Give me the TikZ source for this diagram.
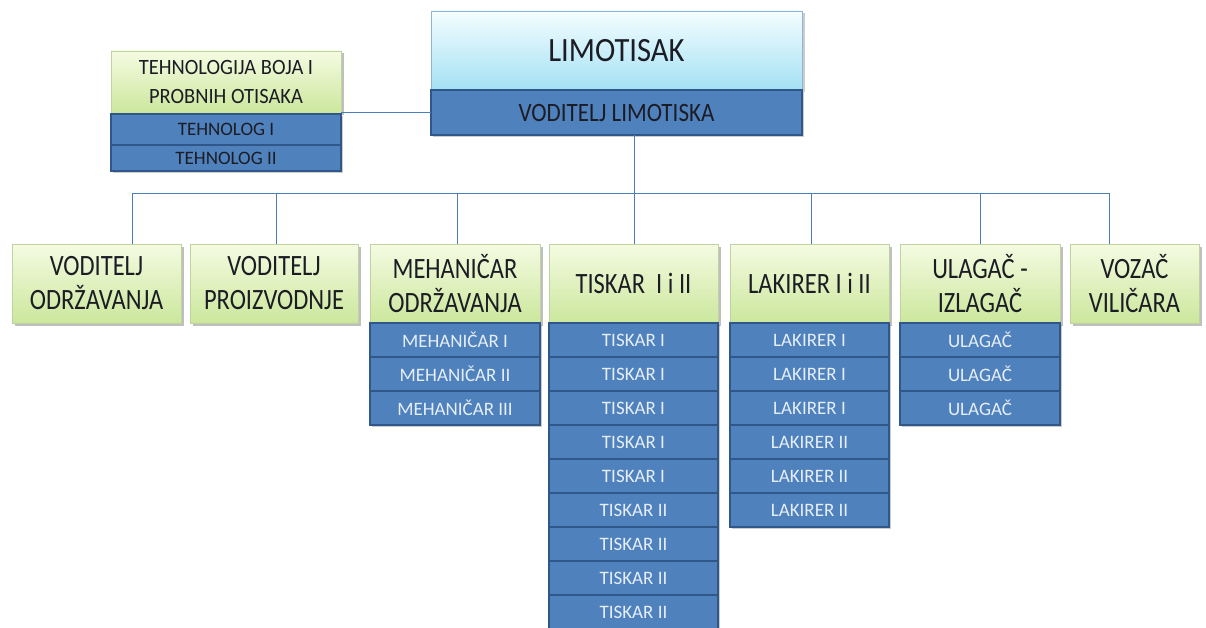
\documentclass[tikz,border=0pt]{standalone}
\usepackage{fontspec}
\setmainfont{Carlito}
\newfontfamily\greenf[FakeStretch=0.83]{Carlito}
\newfontfamily\limf[FakeStretch=0.9]{Carlito}
\newfontfamily\vlf[FakeStretch=0.87]{Carlito}
\newfontfamily\tehf[FakeStretch=0.94]{Carlito}
\usetikzlibrary{shadows}
\definecolor{blueF}{HTML}{4F81BD}
\definecolor{blueD}{HTML}{30578A}
\definecolor{lineC}{HTML}{4A7EBB}
\definecolor{greenT}{HTML}{F5FBE2}
\definecolor{greenB}{HTML}{CBE79C}
\definecolor{greenE}{HTML}{BFD3A0}
\definecolor{cyanT}{HTML}{F4FDFF}
\definecolor{cyanB}{HTML}{A4E1F4}
\definecolor{cyanE}{HTML}{8FB4D8}
\definecolor{subT}{HTML}{E6EEF8}
\definecolor{darkT}{HTML}{1C1C24}
\tikzset{
  x=1pt, y=-1pt,
  greenbox/.style={draw=greenE, line width=0.8pt, top color=greenT, bottom color=greenB,
    inner sep=0pt, outer sep=0pt, align=center, text=darkT,
    font=\greenf\fontsize{29.5}{34}\selectfont,
    drop shadow={shadow xshift=2.5pt, shadow yshift=-2.5pt, opacity=0.25, fill=black}},
  subbox/.style={draw=blueD, line width=1.6pt, fill=blueF, text=subT,
    inner sep=0pt, outer sep=0pt, font=\fontsize{19}{22}\selectfont,
    drop shadow={shadow xshift=2pt, shadow yshift=-2pt, opacity=0.2, fill=black}},
  darksub/.style={subbox, text=darkT},
  conn/.style={draw=lineC, line width=0.9pt}
}
\begin{document}
\begin{tikzpicture}
\useasboundingbox[fill=white] (0,0) rectangle (1206,628);

% top
\node[draw=cyanE, line width=0.8pt, top color=cyanT, bottom color=cyanB, inner sep=0pt, outer sep=0pt,
  minimum width=371pt, minimum height=79pt, text=darkT, font=\limf\fontsize{34}{38}\selectfont,
  drop shadow={shadow xshift=2.5pt, shadow yshift=-2.5pt, opacity=0.2, fill=black}]
  (lim) at (616.5,50.5) {LIMOTISAK};
\node[darksub, minimum width=371pt, minimum height=45pt, font=\vlf\fontsize{26.5}{30}\selectfont]
  (vl) at (616.5,112.5) {VODITELJ LIMOTISKA};

% technology
\node[greenbox, minimum width=230pt, minimum height=62pt, font=\tehf\fontsize{21.8}{29}\selectfont]
  (teh) at (226,82) {TEHNOLOGIJA BOJA I\\PROBNIH OTISAKA};
\node[darksub, minimum width=230pt, minimum height=31pt] (th1) at (226,129.5) {TEHNOLOG I};
\node[darksub, minimum width=230pt, minimum height=26pt] (th2) at (226,158) {TEHNOLOG II};

% bus coordinates
\coordinate (bus) at (634,193);
\coordinate (d1) at (132,193);
\coordinate (d2) at (276,193);
\coordinate (d3) at (457,193);
\coordinate (d5) at (811,193);
\coordinate (d6) at (980,193);
\coordinate (d7) at (1109,193);

% second level
\node[greenbox, minimum width=169pt, minimum height=79pt] (g1) at (96.5,283.5) {VODITELJ\\ODRŽAVANJA};
\node[greenbox, minimum width=168pt, minimum height=79pt] (g2) at (274,283.5) {VODITELJ\\PROIZVODNJE};
\node[greenbox, minimum width=170pt, minimum height=79pt] (g3) at (455,283.5) {MEHANIČAR\\ODRŽAVANJA};
\node[greenbox, minimum width=169pt, minimum height=79pt] (g4) at (633.5,283.5) {TISKAR\ \ I i II};
\node[greenbox, minimum width=159pt, minimum height=79pt] (g5) at (809.5,283.5) {LAKIRER I i II};
\node[greenbox, minimum width=160pt, minimum height=79pt] (g6) at (980,283.5) {ULAGAČ -\\IZLAGAČ};
\node[greenbox, minimum width=129pt, minimum height=79pt] (g7) at (1134.5,283.5) {VOZAČ\\VILIČARA};

% connectors
\draw[conn] (vl.west) -- (vl.west -| teh.east);
\draw[conn] (vl.south -| bus) -- (bus);
\draw[conn] (d1) -- (d7);
\draw[conn] (d1) -- (d1 |- g1.north);
\draw[conn] (d2) -- (d2 |- g2.north);
\draw[conn] (d3) -- (d3 |- g3.north);
\draw[conn] (bus) -- (bus |- g4.north);
\draw[conn] (d5) -- (d5 |- g5.north);
\draw[conn] (d6) -- (d6 |- g6.north);
\draw[conn] (d7) -- (d7 |- g7.north);

% sub boxes
\foreach \i/\lab in {1/MEHANIČAR I, 2/MEHANIČAR II, 3/MEHANIČAR III}
  \node[subbox, minimum width=170pt, minimum height=34pt] (m\i) at (455,306+34*\i) {\lab};
\foreach \i/\lab in {1/TISKAR I, 2/TISKAR I, 3/TISKAR I, 4/TISKAR I, 5/TISKAR I,
  6/TISKAR II, 7/TISKAR II, 8/TISKAR II, 9/TISKAR II}
  \node[subbox, minimum width=169pt, minimum height=34pt] (t\i) at (633.5,306+34*\i) {\lab};
\foreach \i/\lab in {1/LAKIRER I, 2/LAKIRER I, 3/LAKIRER I, 4/LAKIRER II, 5/LAKIRER II, 6/LAKIRER II}
  \node[subbox, minimum width=159pt, minimum height=34pt] (l\i) at (809.5,306+34*\i) {\lab};
\foreach \i/\lab in {1/ULAGAČ, 2/ULAGAČ, 3/ULAGAČ}
  \node[subbox, minimum width=160pt, minimum height=34pt] (u\i) at (980,306+34*\i) {\lab};
\end{tikzpicture}
\end{document}
